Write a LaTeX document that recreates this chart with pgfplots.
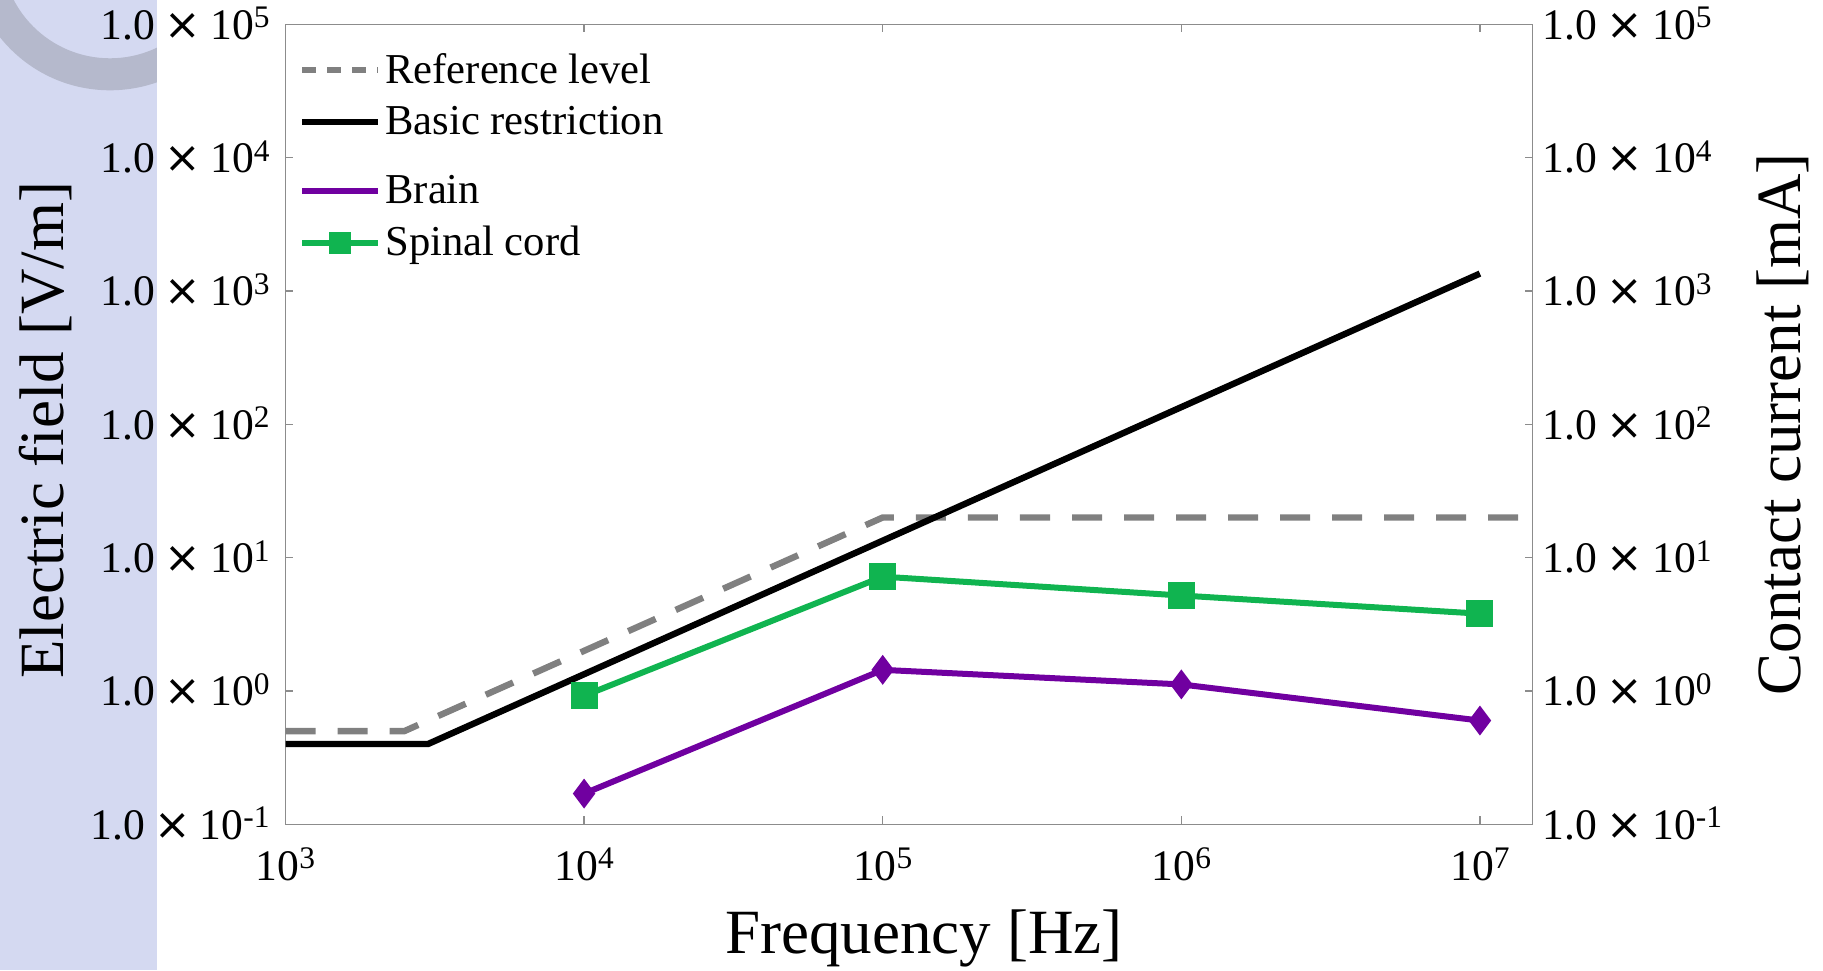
\documentclass[border=0pt]{standalone}
\usepackage{fontspec}
\setmainfont{Liberation Serif}
\newfontfamily\dvsans{DejaVu Sans}
\usepackage{pgfplots}
\pgfplotsset{compat=1.18}

\definecolor{cRef}{HTML}{808080}
\definecolor{cBrain}{HTML}{7000A0}
\definecolor{cSpine}{HTML}{10B450}
\definecolor{cFrame}{HTML}{8C8C8C}
\definecolor{cSlide}{HTML}{D4D9F1}
\definecolor{cRing}{HTML}{B5B9CC}

% superscript for the 10^n labels
\newcommand{\sx}[1]{\raisebox{0.26em}{\scalebox{0.72}{#1}}}
\newcommand{\tl}[1]{1.0\hspace{4.6pt}{\dvsans ×}\hspace{4.6pt}10\sx{#1}}

\begin{document}
\begin{tikzpicture}
\useasboundingbox (-142.75pt,-73pt) rectangle (768.75pt,412.15pt);
% slide background on the left
\fill[cSlide] (-142.75pt,-73pt) rectangle (-64.25pt,412.15pt);
\begin{scope}
  \clip (-142.75pt,-73pt) rectangle (-64.25pt,412.15pt);
  \fill[cRing,even odd rule] (-87.75pt,437.3pt) circle (70.3pt) (-87.75pt,437.3pt) circle (54.3pt);
\end{scope}

\begin{axis}[name=ax,scale only axis,width=623.5pt,height=400pt,
    at={(0,0)},anchor=south west,
    xmode=log,ymode=log,xmin=1e3,xmax=1.5e7,ymin=0.1,ymax=1e5,
    xminorticks=false,yminorticks=false,
    xtick={1e3,1e4,1e5,1e6,1e7},
    xticklabels={10\sx{3},10\sx{4},10\sx{5},10\sx{6},10\sx{7}},
    ytick={0.1,1,10,100,1000,10000,100000},
    yticklabels={\tl{-1},\tl{0},\tl{1},\tl{2},\tl{3},\tl{4},\tl{5}},
    tick align=inside,major tick length=4pt,
    axis line style={cFrame,line width=0.75pt},
    tick style={cFrame,line width=0.75pt},
    ticklabel style={font=\fontsize{21.8}{26}\selectfont,inner sep=0pt},
    xticklabel style={anchor=base,yshift=-28pt},
    yticklabel style={anchor=base east,xshift=-7.75pt,yshift=-7.5pt},
    legend cell align=left,
    legend image code/.code={\draw[mark repeat=2,mark phase=2,#1]
        plot coordinates {(0pt,0pt) (19pt,0pt) (38pt,0pt)};},
    legend style={at={(0,1)},anchor=north west,xshift=6.75pt,yshift=-14.2pt,
        draw=none,fill=none,inner sep=0pt,row sep=10pt,column sep=2pt,
        nodes={inner sep=0pt},font=\fontsize{21.3}{25}\selectfont}]

\addlegendimage{cRef,line width=3pt,dash pattern=on 7pt off 5.5pt}
\addlegendentry{Reference level}
\addlegendimage{black,line width=3pt}
\addlegendentry{Basic restriction}

% reference level (contact current)
\addplot[forget plot,cRef,line width=3.2pt,dash pattern=on 15pt off 11pt]
  coordinates {(1000,0.5) (2500,0.5) (1e5,20) (1.5e7,20)};
% basic restriction
\addplot[forget plot,black,line width=3.2pt]
  coordinates {(1000,0.4) (3000,0.4) (1e7,1350)};
% brain
\addplot[forget plot,cBrain,line width=3pt,mark=diamond*,mark size=5pt,
    mark options={solid}]
  coordinates {(1e4,0.17) (1e5,1.44) (1e6,1.12) (1e7,0.60)};
% spinal cord
\addplot[forget plot,cSpine,line width=3pt,mark=square*,mark size=5.25pt,
    mark options={solid}]
  coordinates {(1e4,0.92) (1e5,7.2) (1e6,5.2) (1e7,3.8)};
\end{axis}

% right-hand tick labels (contact current) and second legend block
\begin{axis}[scale only axis,width=623.5pt,height=400pt,
    at={(0,0)},anchor=south west,
    xmode=log,ymode=log,xmin=1e3,xmax=1.5e7,ymin=0.1,ymax=1e5,
    hide x axis,axis y line*=right,axis line style={draw=none},
    yminorticks=false,major tick length=0pt,
    ytick={0.1,1,10,100,1000,10000,100000},
    yticklabels={\tl{-1},\tl{0},\tl{1},\tl{2},\tl{3},\tl{4},\tl{5}},
    yticklabel style={font=\fontsize{21.8}{26}\selectfont,inner sep=0pt,
        anchor=base west,xshift=5pt,yshift=-7.5pt},
    legend cell align=left,
    legend image code/.code={\draw[mark repeat=2,mark phase=2,#1]
        plot coordinates {(0pt,0pt) (19pt,0pt) (38pt,0pt)};},
    legend style={at={(0,1)},anchor=north west,xshift=6.75pt,yshift=-75.2pt,
        draw=none,fill=none,inner sep=0pt,row sep=10pt,column sep=2pt,
        nodes={inner sep=0pt},font=\fontsize{21.3}{25}\selectfont}]
\addlegendimage{cBrain,line width=3pt}
\addlegendentry{Brain}
\addlegendimage{cSpine,line width=3pt,mark=square*,mark size=4pt}
\addlegendentry{Spinal cord}
\end{axis}

\node[rotate=90,anchor=base,font=\fontsize{31.5}{36}\selectfont]
  at ([xshift=-110.75pt,yshift=-3pt]ax.west) {Electric field [V/m]};
\node[rotate=90,anchor=base,font=\fontsize{31.5}{36}\selectfont]
  at ([xshift=133.75pt]ax.east) {Contact current [mA]};
\node[anchor=base,font=\fontsize{31.5}{36}\selectfont]
  at ([xshift=7.5pt,yshift=-64.5pt]ax.south) {Frequency [Hz]};
\end{tikzpicture}
\end{document}
